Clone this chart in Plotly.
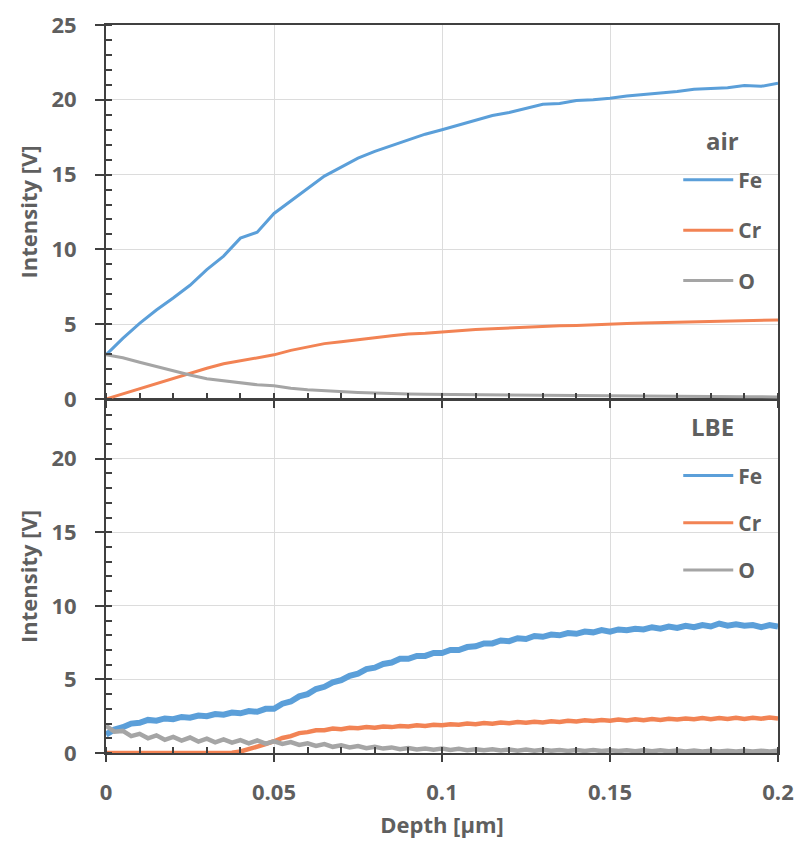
import plotly.graph_objects as go

# ---------------- data ----------------
depth_air = [0, 0.005, 0.01, 0.015, 0.02, 0.025, 0.03, 0.035, 0.04, 0.045,
             0.05, 0.055, 0.06, 0.065, 0.07, 0.075, 0.08, 0.085, 0.09, 0.095,
             0.1, 0.105, 0.11, 0.115, 0.12, 0.125, 0.13, 0.135, 0.14, 0.145,
             0.15, 0.155, 0.16, 0.165, 0.17, 0.175, 0.18, 0.185, 0.19, 0.195, 0.2]

fe_air = [2.95, 4.05, 5.05, 5.95, 6.75, 7.6, 8.65, 9.55, 10.75, 11.15,
          12.4, 13.25, 14.1, 14.9, 15.5, 16.1, 16.55, 16.95, 17.3, 17.7,
          18.0, 18.3, 18.6, 18.95, 19.15, 19.4, 19.7, 19.75, 19.95, 20.0,
          20.1, 20.25, 20.35, 20.5, 20.55, 20.7, 20.75, 20.8, 20.95, 20.9, 21.1]

cr_air = [0.0, 0.35, 0.7, 1.05, 1.4, 1.72, 2.05, 2.35, 2.55, 2.78,
          2.95, 3.25, 3.45, 3.7, 3.82, 3.98, 4.1, 4.22, 4.35, 4.4,
          4.5, 4.55, 4.65, 4.7, 4.75, 4.82, 4.85, 4.9, 4.92, 4.98,
          5.0, 5.05, 5.08, 5.1, 5.15, 5.15, 5.2, 5.22, 5.2, 5.25, 5.28]

o_air = [2.95, 2.75, 2.45, 2.15, 1.85, 1.6, 1.35, 1.22, 1.08, 0.95,
         0.88, 0.72, 0.62, 0.55, 0.5, 0.44, 0.4, 0.35, 0.33, 0.31,
         0.3, 0.28, 0.27, 0.25, 0.25, 0.23, 0.22, 0.22, 0.2, 0.2,
         0.19, 0.18, 0.18, 0.17, 0.17, 0.16, 0.16, 0.15, 0.15, 0.15, 0.14]

depth_lbe = [0, 0.0025, 0.005, 0.0075, 0.01, 0.0125, 0.015, 0.0175, 0.02, 0.0225,
             0.025, 0.0275, 0.03, 0.0325, 0.035, 0.0375, 0.04, 0.0425, 0.045, 0.0475,
             0.05, 0.0525, 0.055, 0.0575, 0.06, 0.0625, 0.065, 0.0675, 0.07, 0.0725,
             0.075, 0.0775, 0.08, 0.0825, 0.085, 0.0875, 0.09, 0.0925, 0.095, 0.0975,
             0.1, 0.1025, 0.105, 0.1075, 0.11, 0.1125, 0.115, 0.1175, 0.12, 0.1225,
             0.125, 0.1275, 0.13, 0.1325, 0.135, 0.1375, 0.14, 0.1425, 0.145, 0.1475,
             0.15, 0.1525, 0.155, 0.1575, 0.16, 0.1625, 0.165, 0.1675, 0.17, 0.1725,
             0.175, 0.1775, 0.18, 0.1825, 0.185, 0.1875, 0.19, 0.1925, 0.195, 0.1975, 0.2]

fe_lbe = [1.25, 1.6, 1.75, 2.0, 2.05, 2.25, 2.2, 2.35, 2.3, 2.45,
          2.4, 2.55, 2.5, 2.65, 2.6, 2.75, 2.7, 2.85, 2.8, 3.0,
          3.0, 3.35, 3.5, 3.85, 4.0, 4.35, 4.5, 4.8, 4.95, 5.25,
          5.4, 5.7, 5.8, 6.05, 6.15, 6.4, 6.4, 6.6, 6.6, 6.8,
          6.8, 7.0, 7.0, 7.2, 7.25, 7.45, 7.45, 7.65, 7.6, 7.8,
          7.75, 7.95, 7.9, 8.05, 8.0, 8.15, 8.1, 8.25, 8.2, 8.35,
          8.25, 8.4, 8.35, 8.45, 8.4, 8.55, 8.45, 8.6, 8.5, 8.65,
          8.55, 8.7, 8.6, 8.8, 8.65, 8.75, 8.65, 8.7, 8.55, 8.7, 8.6]

cr_lbe = [0, 0, 0, 0, 0, 0, 0, 0, 0, 0,
          0, 0, 0, 0, 0, 0.02, 0.1, 0.25, 0.42, 0.6,
          0.8, 1.02, 1.15, 1.35, 1.42, 1.55, 1.55, 1.66, 1.62, 1.72,
          1.68, 1.76, 1.72, 1.8, 1.76, 1.84, 1.8, 1.88, 1.84, 1.92,
          1.88, 1.96, 1.92, 2.0, 1.95, 2.04, 1.99, 2.07, 2.02, 2.1,
          2.05, 2.13, 2.08, 2.16, 2.11, 2.19, 2.14, 2.22, 2.17, 2.25,
          2.19, 2.27, 2.21, 2.29, 2.23, 2.31, 2.25, 2.33, 2.27, 2.35,
          2.29, 2.37, 2.3, 2.38, 2.31, 2.39, 2.32, 2.4, 2.33, 2.41, 2.35]

o_lbe = [1.85, 1.45, 1.5, 1.15, 1.3, 1.0, 1.2, 0.9, 1.1, 0.85,
         1.05, 0.78, 0.98, 0.72, 0.92, 0.7, 0.88, 0.66, 0.85, 0.64,
         0.8, 0.62, 0.74, 0.55, 0.66, 0.48, 0.6, 0.42, 0.52, 0.38,
         0.47, 0.33, 0.42, 0.3, 0.38, 0.26, 0.34, 0.24, 0.31, 0.22,
         0.3, 0.2, 0.28, 0.19, 0.26, 0.18, 0.25, 0.17, 0.24, 0.16,
         0.23, 0.15, 0.22, 0.15, 0.21, 0.14, 0.2, 0.14, 0.2, 0.13,
         0.19, 0.13, 0.19, 0.12, 0.18, 0.12, 0.18, 0.12, 0.17, 0.11,
         0.17, 0.11, 0.16, 0.11, 0.16, 0.1, 0.16, 0.1, 0.15, 0.1, 0.15]

x_ticks = [0, 0.05, 0.1, 0.15, 0.2]
x_ticktext = ["0", "0.05", "0.1", "0.15", "0.2"]
y_ticks_air = [0, 5, 10, 15, 20, 25]
y_ticks_lbe = [0, 5, 10, 15, 20]
panel_labels = ["air", "LBE"]

# ---------------- style ----------------
C_FE = "#5B9FD9"
C_CR = "#F28354"
C_O = "#A5A5A5"
AX = "#404040"
TXT = "#5F5F5F"
GRID = "#DCDCDC"
FONT = "Open Sans"

fig = go.Figure()

series = [
    ("air", depth_air, fe_air, "Fe", C_FE, 3, "x2", "y2", "legend"),
    ("air", depth_air, cr_air, "Cr", C_CR, 3, "x2", "y2", "legend"),
    ("air", depth_air, o_air, "O", C_O, 3, "x2", "y2", "legend"),
    ("lbe", depth_lbe, fe_lbe, "Fe", C_FE, 6, "x", "y", "legend2"),
    ("lbe", depth_lbe, cr_lbe, "Cr", C_CR, 4.5, "x", "y", "legend2"),
    ("lbe", depth_lbe, o_lbe, "O", C_O, 4.5, "x", "y", "legend2"),
]

for grp, xs, ys, name, col, w, xa, ya, leg in series:
    fig.add_trace(go.Scatter(x=xs, y=ys, name=name, mode="lines",
                             line=dict(color=col, width=w), xaxis=xa, yaxis=ya,
                             showlegend=False))
    # legend entry (no data) with the thin sample line of the original
    fig.add_trace(go.Scatter(x=[None], y=[None], name=name, mode="lines",
                             line=dict(color=col, width=3), xaxis=xa, yaxis=ya,
                             legend=leg, legendgroup=grp + name, showlegend=True))

tickfont = dict(family=FONT, size=22, color=TXT, weight="bold")
titlefont = dict(family=FONT, size=22, color=TXT, weight="bold")

common_x = dict(range=[0, 0.2], tickvals=x_ticks, ticktext=x_ticktext,
                showline=True, linecolor=AX, linewidth=2, mirror=True,
                ticks="outside", ticklen=7, tickwidth=2, tickcolor=AX,
                showgrid=True, gridcolor=GRID, gridwidth=1, zeroline=False,
                minor=dict(dtick=0.01, ticks="inside", ticklen=6, tickwidth=2,
                           tickcolor=AX, showgrid=False),
                tickfont=tickfont, ticklabelstandoff=12, automargin=False)
common_y = dict(showline=True, linecolor=AX, linewidth=2, mirror=True,
                ticks="outside", ticklen=9, tickwidth=2, tickcolor=AX,
                showgrid=True, gridcolor=GRID, gridwidth=1, zeroline=False,
                minor=dict(dtick=1, ticks="inside", ticklen=6, tickwidth=2,
                           tickcolor=AX, showgrid=False),
                tickfont=tickfont, ticklabelstandoff=14, automargin=False)

legfont = dict(family=FONT, size=21, color=TXT, weight="bold")
legtitle = dict(family=FONT, size=24, color=TXT, weight="bold")

fig.update_layout(
    width=800, height=850,
    margin=dict(l=106, r=22, t=25, b=97),
    paper_bgcolor="white", plot_bgcolor="white",
    font=dict(family=FONT, color=TXT),
    xaxis=dict(domain=[0, 1], anchor="y",
               title=dict(text="Depth [µm]", font=titlefont, standoff=12),
               **common_x),
    yaxis=dict(domain=[0, 0.485], anchor="x", range=[0, 24],
               tickvals=y_ticks_lbe,
               title=dict(text="Intensity [V]", font=titlefont, standoff=8),
               **common_y),
    xaxis2=dict(domain=[0, 1], anchor="y2", showticklabels=False, **common_x),
    yaxis2=dict(domain=[0.4863, 1], anchor="x2", range=[0, 25],
                tickvals=y_ticks_air,
                title=dict(text="Intensity [V]", font=titlefont, standoff=8),
                **common_y),
    legend=dict(x=0.984, xanchor="right", y=0.815, yanchor="top",
                bgcolor="rgba(0,0,0,0)", tracegroupgap=20, itemwidth=50,
                font=legfont),
    legend2=dict(x=0.984, xanchor="right", y=0.409, yanchor="top",
                 bgcolor="rgba(0,0,0,0)", tracegroupgap=17, itemwidth=50,
                 font=legfont),
    annotations=[
        dict(text=panel_labels[0], xref="paper", yref="paper", x=0.9167, y=0.8407,
             xanchor="center", yanchor="middle", showarrow=False, font=legtitle),
        dict(text=panel_labels[1], xref="paper", yref="paper", x=0.902, y=0.4485,
             xanchor="center", yanchor="middle", showarrow=False, font=legtitle),
    ],
)

fig.write_html("out.html", config={"displayModeBar": False},
               post_script="document.body.style.margin='0px';"
                           "document.body.style.overflow='hidden';")
